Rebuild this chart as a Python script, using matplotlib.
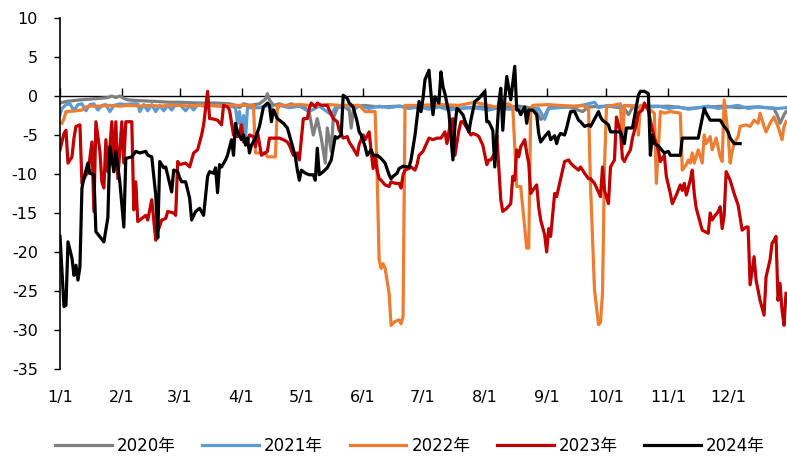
import matplotlib
matplotlib.use("Agg")
import matplotlib.pyplot as plt

plt.rcParams['font.family'] = ['DejaVu Sans', 'Noto Sans CJK SC']
plt.rcParams['axes.unicode_minus'] = False

# day of year (0 = 1/1) and value
s2020 = [(0, -0.9), (3, -0.7), (10, -0.5), (20, -0.3), (24, -0.2), (26, 0.0), (28, -0.2), (30, 0.0),
         (32, -0.3), (34, -0.5), (40, -0.6), (48, -0.7), (55, -0.8), (60, -0.8), (70, -0.9), (78, -0.9),
         (85, -1.0), (88, -1.2), (90, -1.5), (92, -1.0), (95, -1.2), (100, -1.0), (103, -0.4), (104, 0.3),
         (105, -0.5), (107, -1.2), (110, -1.0), (113, -1.3), (116, -1.0), (119, -1.3), (122, -1.2),
         (125, -2.2), (127, -5.0), (129, -2.9), (131, -5.4), (133, -8.6), (134, -4.1), (136, -7.1),
         (137, -2.9), (139, -1.5), (142, -1.3), (145, -1.8), (146, -4.1), (147, -1.8), (149, -1.4),
         (152, -1.2), (160, -1.4), (170, -1.3), (180, -1.5), (190, -1.3), (200, -1.6), (210, -1.4),
         (220, -1.5), (230, -1.3), (238, -1.6), (241, -3.0), (243, -2.6), (245, -1.5), (255, -1.4),
         (262, -2.0), (265, -1.4), (275, -1.3), (283, -1.6), (285, -2.4), (287, -1.5), (295, -1.4),
         (305, -1.3), (315, -1.6), (325, -1.4), (333, -1.3), (340, -1.5), (350, -1.4), (358, -1.6),
         (360, -2.7), (361, -3.5), (363, -2.4), (364, -2.0)]

s2021 = [(0, -2.4), (1, -1.6), (3, -1.1), (5, -1.0), (7, -1.9), (9, -1.1), (11, -1.0), (13, -1.9),
         (15, -1.1), (17, -1.0), (19, -1.8), (21, -1.2), (23, -1.1), (25, -2.0), (27, -1.2), (30, -1.0),
         (33, -1.1), (36, -1.0), (39, -1.0), (40, -2.0), (42, -1.1), (44, -1.9), (46, -1.1), (48, -2.0),
         (50, -1.2), (52, -1.9), (54, -1.2), (56, -1.8), (58, -1.1), (60, -1.1), (63, -1.9), (65, -1.2),
         (67, -1.8), (69, -1.1), (72, -1.3), (75, -1.2), (80, -1.3), (84, -1.2), (88, -1.5), (89, -3.5),
         (90, -2.0), (91, -5.0), (92, -2.5), (93, -5.5), (94, -1.5), (100, -1.5), (105, -1.2), (108, -2.2),
         (110, -1.2), (115, -1.5), (120, -1.3), (125, -2.0), (130, -1.3), (136, -2.4), (138, -1.5),
         (145, -1.4), (150, -1.3), (155, -1.6), (160, -1.3), (165, -1.5), (170, -1.3), (175, -1.6),
         (180, -1.4), (185, -1.7), (190, -1.4), (195, -1.8), (200, -1.6), (205, -1.5), (210, -1.6),
         (215, -1.8), (220, -1.5), (225, -1.7), (230, -1.6), (235, -1.8), (240, -1.6), (243, -3.0),
         (245, -1.6), (250, -1.5), (255, -1.4), (260, -1.3), (265, -1.0), (268, -0.8), (270, -1.5),
         (275, -1.2), (280, -1.4), (285, -1.2), (290, -1.5), (295, -1.3), (300, -1.3), (305, -1.6),
         (310, -1.4), (315, -1.7), (320, -1.5), (325, -1.3), (330, -1.6), (335, -1.4), (340, -1.2),
         (345, -1.6), (350, -1.4), (355, -1.5), (360, -1.6), (364, -1.5)]

s2022 = [(1, -3.5), (2, -2.9), (3, -2.0), (8, -1.9), (11, -1.8), (13, -1.4), (15, -1.3), (20, -1.3),
         (25, -1.2), (30, -1.3), (35, -1.2), (40, -1.3), (45, -1.2), (50, -1.3), (55, -1.2), (60, -1.2),
         (65, -1.3), (70, -1.2), (75, -1.2), (80, -1.3), (85, -1.2), (90, -1.2), (97, -1.2), (98, -7.3),
         (103, -7.3), (104, -7.8), (108, -7.8), (109, -1.2), (115, -1.2), (120, -1.1), (125, -1.2),
         (130, -1.2), (135, -1.1), (140, -1.2), (145, -1.2), (150, -1.2), (153, -2.0), (158, -2.0),
         (159, -10.0), (160, -21.0), (161, -22.1), (162, -21.5), (163, -22.1), (165, -25.3), (166, -29.4),
         (168, -28.9), (170, -28.7), (171, -29.2), (172, -28.3), (173, -1.2), (180, -1.2), (190, -1.1),
         (200, -1.2), (208, -0.8), (215, -1.2), (218, -1.4), (225, -1.0), (227, -1.4), (229, -11.6),
         (231, -11.6), (234, -19.5), (235, -19.5), (236, -1.8), (237, -1.2), (245, -1.1), (250, -1.2),
         (258, -1.3), (262, -1.2), (265, -1.6), (266, -11.6), (268, -24.9), (270, -29.3), (271, -29.0),
         (272, -25.3), (273, -9.1), (274, -1.4), (277, -1.2), (281, -1.0), (282, -6.5), (283, -1.2),
         (286, -1.3), (289, -1.2), (290, -5.0), (291, -1.2), (295, -1.6), (298, -2.2), (299, -11.2),
         (301, -2.0), (303, -2.2), (306, -2.0), (311, -2.2), (312, -9.5), (314, -8.8), (315, -8.2),
         (316, -8.6), (317, -7.3), (318, -8.6), (320, -6.9), (322, -8.6), (323, -5.0), (324, -6.1),
         (326, -5.2), (327, -6.9), (329, -5.4), (331, -7.8), (332, -8.4), (333, -0.5), (335, -5.0),
         (336, -8.6), (337, -7.1), (338, -6.1), (340, -5.2), (341, -3.9), (344, -3.7), (346, -3.9),
         (348, -3.1), (350, -3.5), (351, -2.2), (353, -3.9), (354, -4.6), (356, -3.5), (358, -2.7),
         (360, -3.9), (362, -5.6), (363, -3.9), (364, -3.3)]

s2023 = [(0, -6.9), (2, -4.8), (3, -4.4), (4, -8.6), (6, -7.8), (7, -5.4), (8, -3.9), (10, -3.7),
         (11, -11.2), (13, -10.1), (14, -9.9), (16, -5.9), (17, -14.8), (18, -3.3), (20, -7.1), (21, -11.0),
         (22, -11.8), (23, -5.6), (24, -9.7), (26, -3.3), (27, -9.7), (28, -3.3), (29, -10.6), (31, -3.3),
         (32, -8.6), (33, -3.3), (36, -3.3), (37, -14.6), (38, -11.0), (39, -16.1), (41, -15.7), (43, -15.3),
         (44, -15.9), (46, -13.3), (48, -18.5), (49, -17.4), (51, -15.9), (53, -15.7), (54, -14.8),
         (57, -15.0), (58, -15.3), (59, -8.4), (60, -8.8), (63, -8.6), (65, -9.1), (67, -7.3), (69, -6.9),
         (71, -5.0), (72, -3.7), (74, 0.6), (75, -2.9), (76, -2.9), (79, -3.1), (81, -3.7), (82, -1.2),
         (84, -1.4), (85, -1.8), (87, -5.0), (89, -5.2), (90, -5.0), (91, -3.7), (92, -5.9), (94, -5.9),
         (95, -5.0), (97, -5.2), (98, -6.5), (99, -4.6), (101, -7.6), (104, -7.1), (105, -5.4), (108, -5.4),
         (110, -5.4), (112, -5.6), (114, -5.9), (115, -6.3), (117, -7.6), (119, -7.3), (120, -8.2),
         (122, -2.9), (124, -2.9), (125, -1.6), (126, -0.9), (128, -1.4), (129, -0.9), (131, -1.2),
         (134, -1.2), (135, -1.8), (137, -2.9), (139, -3.3), (140, -4.4), (142, -5.4), (144, -5.2),
         (145, -5.9), (147, -6.7), (149, -7.6), (150, -6.2), (152, -5.0), (153, -5.6), (155, -4.6),
         (156, -7.1), (157, -9.3), (158, -7.8), (159, -9.5), (160, -10.6), (161, -10.8), (163, -11.4),
         (165, -11.6), (166, -11.0), (168, -11.2), (170, -11.2), (171, -11.8), (172, -10.1), (173, -9.5),
         (175, -9.3), (176, -9.1), (178, -9.5), (179, -8.8), (180, -7.6), (182, -7.1), (185, -5.4),
         (187, -5.6), (189, -5.4), (191, -5.4), (193, -4.6), (194, -6.1), (196, -3.1), (197, -2.9),
         (198, -7.6), (200, -4.4), (201, -3.3), (202, -3.3), (204, -4.1), (206, -5.0), (207, -4.8),
         (209, -5.0), (210, -5.2), (212, -6.3), (214, -8.8), (215, -8.2), (216, -8.2), (218, -7.3),
         (219, -5.0), (221, -13.3), (222, -14.8), (224, -14.4), (226, -13.8), (227, -10.3), (228, -10.8),
         (229, -6.9), (230, -7.8), (231, -6.5), (233, -5.6), (234, -7.3), (235, -8.6), (236, -12.5),
         (237, -12.1), (239, -11.4), (240, -14.2), (241, -15.9), (243, -17.8), (244, -20.0), (245, -17.0),
         (246, -18.0), (248, -12.5), (249, -12.9), (251, -10.6), (252, -9.5), (253, -8.4), (255, -8.2),
         (256, -8.6), (258, -9.1), (260, -9.5), (261, -9.1), (263, -9.9), (265, -10.6), (266, -10.6),
         (268, -11.2), (271, -12.9), (272, -9.1), (273, -12.1), (275, -13.8), (276, -9.1), (278, -8.2),
         (279, -2.7), (281, -4.6), (282, -8.0), (283, -8.4), (284, -7.8), (286, -6.9), (287, -5.4),
         (289, -3.5), (290, -2.2), (292, -1.8), (293, -0.9), (295, -1.8), (296, -3.1), (298, -5.4),
         (300, -6.9), (301, -8.4), (303, -7.6), (304, -10.3), (306, -12.5), (307, -13.8), (309, -12.7),
         (311, -11.4), (312, -12.1), (313, -11.2), (314, -12.7), (316, -10.8), (317, -9.5), (318, -12.5),
         (319, -14.4), (321, -16.3), (322, -17.2), (325, -17.6), (326, -15.0), (327, -15.9), (328, -15.5),
         (330, -14.8), (331, -14.2), (332, -17.0), (333, -15.3), (334, -9.7), (336, -10.8), (338, -12.5),
         (340, -14.0), (342, -17.2), (344, -16.8), (345, -16.8), (346, -24.2), (348, -20.6), (349, -23.6),
         (351, -26.2), (353, -28.1), (354, -23.2), (356, -21.0), (357, -18.9), (358, -18.5), (359, -18.0),
         (360, -26.2), (361, -24.0), (362, -27.4), (363, -29.4), (364, -25.3)]

s2024 = [(0, -18.0), (2, -27.0), (3, -26.8), (4, -18.7), (6, -20.8), (7, -23.0), (8, -21.7), (9, -23.6),
         (10, -21.9), (11, -11.8), (12, -10.5), (14, -8.6), (15, -9.9), (17, -10.1), (18, -17.4),
         (22, -18.7), (24, -15.6), (25, -6.5), (27, -9.7), (28, -7.1), (30, -11.0), (32, -16.8), (33, -8.0),
         (36, -7.8), (38, -7.1), (40, -7.3), (43, -7.1), (44, -7.6), (46, -7.8), (48, -12.7), (49, -18.2),
         (50, -8.4), (52, -9.2), (53, -9.1), (55, -11.2), (56, -12.3), (57, -9.5), (59, -9.7), (60, -10.5),
         (61, -11.0), (63, -11.0), (65, -13.1), (66, -15.9), (68, -14.8), (70, -14.4), (72, -15.3),
         (74, -10.3), (75, -9.7), (77, -9.9), (78, -9.2), (79, -12.4), (80, -8.8), (81, -9.1), (83, -8.2),
         (84, -7.6), (86, -5.6), (87, -7.6), (88, -3.5), (89, -4.6), (91, -5.6), (92, -5.0), (93, -6.3),
         (94, -5.4), (95, -7.3), (96, -6.3), (98, -5.4), (100, -3.9), (102, -1.4), (104, -0.9), (105, -1.2),
         (106, -3.3), (107, -1.8), (109, -2.9), (110, -3.1), (112, -3.5), (114, -4.1), (115, -5.0),
         (116, -5.9), (118, -7.8), (119, -9.5), (120, -10.8), (121, -9.5), (123, -9.9), (125, -10.1),
         (127, -10.1), (128, -10.8), (129, -6.7), (130, -10.1), (132, -9.7), (134, -9.2), (136, -8.2),
         (138, -5.2), (139, -5.4), (141, -5.0), (142, 0.1), (144, -0.3), (145, -0.9), (147, -1.4),
         (149, -3.3), (150, -4.6), (151, -5.0), (153, -6.5), (154, -7.6), (156, -6.9), (157, -7.6),
         (159, -7.6), (161, -8.0), (163, -8.6), (165, -10.1), (166, -10.6), (167, -10.3), (169, -9.9),
         (170, -9.3), (172, -9.0), (175, -9.1), (176, -8.2), (178, -5.0), (180, -0.7), (181, -2.0),
         (182, -0.3), (183, 2.1), (185, 3.3), (186, 0.3), (187, -2.4), (188, -0.1), (190, -0.9), (191, 3.1),
         (192, 1.2), (193, 0.3), (195, -2.2), (197, -8.2), (198, -3.9), (199, -1.6), (200, -1.8),
         (202, -2.4), (204, -3.9), (205, -4.6), (206, -3.1), (208, -0.7), (210, -0.3), (213, 0.6),
         (214, -3.3), (215, -3.3), (217, -4.4), (218, -9.1), (220, -0.9), (221, 1.0), (222, -4.4),
         (223, -0.5), (224, 2.5), (225, 1.0), (226, -0.5), (228, 3.8), (229, -1.8), (230, -1.8),
         (231, -2.4), (233, -1.4), (234, -3.5), (235, -1.8), (237, -1.8), (239, -2.4), (240, -4.8),
         (241, -5.9), (243, -5.2), (245, -4.6), (246, -5.6), (248, -5.1), (249, -6.1), (250, -5.2),
         (251, -4.8), (253, -5.0), (254, -4.1), (256, -2.0), (258, -2.0), (260, -3.1), (261, -3.3),
         (263, -3.9), (265, -3.7), (266, -3.9), (270, -2.0), (271, -2.7), (272, -3.1), (275, -3.7),
         (276, -4.6), (279, -4.6), (281, -4.6), (283, -6.1), (284, -4.1), (287, -4.1), (288, -2.7),
         (290, 0.1), (291, 0.6), (293, 0.6), (295, 0.3), (296, -7.6), (297, -5.0), (298, -6.1),
         (300, -6.4), (301, -6.7), (303, -7.3), (305, -7.1), (306, -7.6), (311, -7.6), (312, -5.4),
         (320, -5.4), (321, -4.1), (323, -1.6), (324, -2.2), (326, -3.1), (331, -3.1), (333, -3.9),
         (335, -4.6), (336, -5.4), (338, -6.1), (341, -6.1)]

series_names = ['2020年', '2021年', '2022年', '2023年', '2024年']
series_colors = ['#7f7f7f', '#5b9bd5', '#ed7d31', '#c00000', '#000000']
month_days = [0, 31, 60, 91, 121, 152, 182, 213, 244, 274, 305, 335]
month_labels = ['1/1', '2/1', '3/1', '4/1', '5/1', '6/1', '7/1', '8/1', '9/1', '10/1', '11/1', '12/1']
y_ticks = [10, 5, 0, -5, -10, -15, -20, -25, -30, -35]

fig = plt.figure(figsize=(7.87, 4.57), dpi=100)
ax = fig.add_axes([60 / 787, 1 - 369 / 457, 727 / 787, 351 / 457])

for data, name, col in zip([s2020, s2021, s2022, s2023, s2024], series_names, series_colors):
    d = [p[0] for p in data]
    v = [p[1] for p in data]
    ax.plot(d, v, color=col, lw=2.3, label=name, solid_joinstyle='round')

ax.set_xlim(0, 364.5)
ax.set_ylim(-35, 10)
ax.set_yticks(y_ticks)
ax.tick_params(axis='y', direction='out', length=4, width=1, labelsize=11.5, pad=12)

ax.spines['top'].set_visible(False)
ax.spines['right'].set_visible(False)
ax.spines['left'].set_linewidth(1.2)
ax.spines['bottom'].set_position(('data', 0))
ax.spines['bottom'].set_linewidth(1.0)
ax.spines['bottom'].set_zorder(0.5)
ax.set_xticks(month_days)
ax.tick_params(axis='x', direction='in', length=6, width=1, labelbottom=False)

# month labels sit below the plot, not at the zero line
sec = ax.secondary_xaxis('bottom')
sec.set_xticks(month_days, labels=month_labels)
sec.tick_params(length=0, pad=15, labelsize=11.5)
sec.spines['bottom'].set_visible(False)

fig.legend(loc='center', bbox_to_anchor=(410 / 787, 1 - 446 / 457), ncol=5, frameon=False,
           fontsize=12, handlelength=3.4, handletextpad=0.3, columnspacing=1.6)

fig.savefig('out.png', dpi=100)
